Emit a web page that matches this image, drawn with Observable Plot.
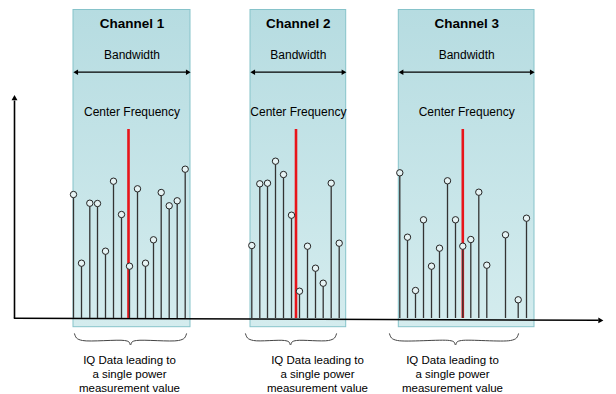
<!DOCTYPE html>
<html>
<head>
<meta charset="utf-8">
<script src="https://cdn.jsdelivr.net/npm/d3@7"></script>
<script src="https://cdn.jsdelivr.net/npm/@observablehq/plot@0.6"></script>
<style>
  html, body { margin: 0; padding: 0; background: #fff; }
  #chart svg { display: block; }
</style>
</head>
<body>
<div id="chart"></div>
<script>
// ---- Data (frequency position, power above baseline) ----
const channelNames = ["Channel 1", "Channel 2", "Channel 3"];
const channelStart = [73, 250, 398.3];
const channelEnd = [190, 345.7, 534];
const centerFreq = [128, 295.5, 462.3];
const centerPower = 189;

const ch1Freq = [73, 81, 89.3, 97, 105, 113, 121, 129, 137, 145, 153, 160.7, 168.7, 176.7, 184.7];
const ch1Power = [124, 55.3, 115.3, 115, 67.3, 137.3, 104, 52.3, 129.7, 55.3, 78.7, 126, 112.7, 117.7, 149.3];
const ch2Freq = [251.3, 259.3, 267, 275, 283, 291, 299, 307, 315, 322.7, 330.7, 338.7];
const ch2Power = [73, 134.7, 135.3, 157.3, 144, 103.3, 27.3, 72.3, 50.3, 35.3, 135.3, 75.3];
const ch3Freq = [399.3, 407, 415, 423, 431, 439, 447, 455, 462.3, 470.3, 478.3, 486.3, 505, 517.7, 526];
const ch3Power = [145.7, 81.3, 28, 98.7, 52.3, 70.3, 137.7, 98.7, 72.3, 79, 126.3, 53.3, 83.7, 18.7, 100.3];

const braceStart = [74, 245, 389];
const braceEnd = [186, 336, 518];
const braceTip = [130, 290, 455];
const captionX = [129, 317, 452];
const captionText = "IQ Data leading to\na single power\nmeasurement value";

// ---- Tables built from the arrays ----
const channels = channelNames.map((name, i) => ({
  name, x1: channelStart[i], x2: channelEnd[i],
  mid: (channelStart[i] + channelEnd[i]) / 2, center: centerFreq[i]
}));
const samples = [
  ...ch1Freq.map((f, i) => ({ freq: f, power: ch1Power[i] })),
  ...ch2Freq.map((f, i) => ({ freq: f, power: ch2Power[i] })),
  ...ch3Freq.map((f, i) => ({ freq: f, power: ch3Power[i] }))
];
const braces = [];
braceStart.forEach((x0, i) => {
  const x1 = braceEnd[i], t = braceTip[i];
  const top = -15.3, body = -22, tip = -26.5;
  [[x0, top], [x0 + 2, body + 2.5], [x0 + 8, body], [t - 6, body], [t - 1.5, body - 1.5], [t, tip],
   [t + 1.5, body - 1.5], [t + 6, body], [x1 - 8, body], [x1 - 2, body + 2.5], [x1, top]]
    .forEach(([x, y]) => braces.push({ id: i, x, y }));
});
const captions = captionX.map(x => ({ x, text: captionText }));

const defs = () => {
  const d = document.createElementNS("http://www.w3.org/2000/svg", "defs");
  d.innerHTML = `<linearGradient id="chgrad" x1="0" y1="0" x2="0" y2="1">
    <stop offset="0" stop-color="#b6dce1"/><stop offset="1" stop-color="#d4ecee"/></linearGradient>`;
  return d;
};

const chart = Plot.plot({
  width: 616,
  height: 394,
  margin: 0,
  x: { domain: [0, 616], range: [0, 616], axis: null },
  y: { domain: [0, 318], range: [318, 0], axis: null },
  style: { fontFamily: "'Liberation Sans', Arial, sans-serif", background: "#fff", color: "#000" },
  marks: [
    defs,
    Plot.rect(channels, { x1: "x1", x2: "x2", y1: -8.7, y2: 308.5, fill: "url(#chgrad)", stroke: "#86c3ca", strokeWidth: 1 }),
    // axes
    Plot.link([0], { x1: 14, y1: 0.3, x2: 14, y2: 218, stroke: "#000", strokeWidth: 1.6 }),
    Plot.dot([0], { x: 14, y: 220, symbol: "triangle2", r: 2.8, fill: "#000", stroke: "none" }),
    Plot.link([0], { x1: 13.3, y1: 0.3, x2: 598, y2: -1.8, stroke: "#000", strokeWidth: 1.6 }),
    Plot.dot([0], { x: 599.5, y: -1.9, symbol: "triangle2", r: 2.8, rotate: 90.3, fill: "#000", stroke: "none" }),
    // bandwidth arrows
    Plot.link(channels, { x1: d => d.x1 + 2, x2: d => d.x2 - 2, y1: 246.3, y2: 246.3, stroke: "#000", strokeWidth: 1.2 }),
    Plot.dot(channels, { x: d => d.x1 + 3, y: 246.3, symbol: "triangle2", r: 2.6, rotate: -90, fill: "#000", stroke: "none" }),
    Plot.dot(channels, { x: d => d.x2 - 3, y: 246.3, symbol: "triangle2", r: 2.6, rotate: 90, fill: "#000", stroke: "none" }),
    // center frequency lines
    Plot.ruleX(channels, { x: "center", y1: 0, y2: centerPower, stroke: "#e8141a", strokeWidth: 2.6 }),
    // samples
    Plot.ruleX(samples, { x: "freq", y1: 0, y2: "power", stroke: "#333", strokeWidth: 1.3 }),
    Plot.dot(samples, { x: "freq", y: "power", r: 3.2, stroke: "#222", strokeWidth: 1, fill: "#e6f3f4" }),
    // labels
    Plot.text(channels, { x: "mid", y: 295.3, text: "name", fontWeight: "bold", fontSize: 13.5, fill: "#000" }),
    Plot.text(channels, { x: "mid", y: 263.7, text: () => "Bandwidth", fontSize: 12, fill: "#000" }),
    Plot.text(channels, { x: "mid", y: 206.3, text: () => "Center Frequency", fontSize: 12, fill: "#000" }),
    // braces and captions
    Plot.line(braces, { x: "x", y: "y", z: "id", curve: "catmull-rom", stroke: "#444", strokeWidth: 1 }),
    Plot.text(captions, { x: "x", y: -55.2, text: "text", fontSize: 11.5, lineHeight: 1.22, fill: "#000" })
  ]
});
document.getElementById("chart").appendChild(chart);
</script>
</body>
</html>
